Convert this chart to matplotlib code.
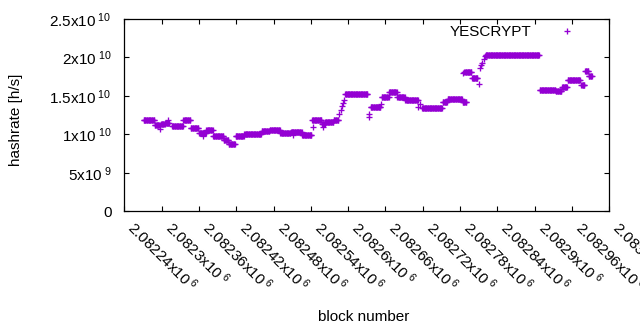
import numpy as np
import matplotlib
matplotlib.use('Agg')
import matplotlib.pyplot as plt

plt.rcParams['font.family'] = ['Liberation Sans', 'DejaVu Sans']
plt.rcParams['mathtext.fontset'] = 'custom'
plt.rcParams['mathtext.rm'] = 'Liberation Sans'
plt.rcParams['mathtext.it'] = 'Liberation Sans:italic'
plt.rcParams['mathtext.bf'] = 'Liberation Sans:bold'

# ---- data (hashrate in units of 1e10 h/s), constant runs over block ranges ----
run_start = [2082271, 2082289, 2082299, 2082306, 2082317, 2082335, 2082347, 2082360,
             2082372, 2082383, 2082400, 2082408, 2082419, 2082433, 2082461, 2082474,
             2082491, 2082508, 2082526, 2082542, 2082558, 2082563, 2082577, 2082595,
             2082636, 2082654, 2082666, 2082679, 2082692, 2082719, 2082752, 2082760,
             2082784, 2082787, 2082799, 2082821, 2082908, 2082934, 2082944, 2082953,
             2082975, 2082981, 2082987]
run_end = [2082288, 2082297, 2082305, 2082312, 2082334, 2082346, 2082359, 2082371,
           2082382, 2082399, 2082407, 2082418, 2082432, 2082460, 2082473, 2082490,
           2082507, 2082525, 2082541, 2082557, 2082562, 2082576, 2082584, 2082631,
           2082652, 2082665, 2082678, 2082691, 2082712, 2082751, 2082759, 2082783,
           2082790, 2082798, 2082808, 2082907, 2082933, 2082943, 2082952, 2082973,
           2082980, 2082986, 2082992]
run_value = [1.19, 1.12, 1.13, 1.15, 1.11, 1.19, 1.085, 1.02,
             1.06, 0.975, 0.92, 0.87, 0.98, 1.005, 1.045, 1.06,
             1.015, 1.025, 0.995, 1.19, 1.13, 1.16, 1.19, 1.53,
             1.36, 1.49, 1.55, 1.49, 1.445, 1.345, 1.42, 1.465,
             1.42, 1.81, 1.73, 2.035, 1.575, 1.56, 1.61, 1.71,
             1.645, 1.82, 1.76]

single_block = [2082298, 2082310, 2082367, 2082512, 2082543, 2082559,
                2082585, 2082588, 2082590, 2082592, 2082594,
                2082633, 2082634, 2082653, 2082713, 2082715, 2082785,
                2082810, 2082812, 2082814, 2082816, 2082818, 2082820]
single_value = [1.075, 1.19, 0.98, 0.99, 1.10, 1.10,
                1.27, 1.32, 1.365, 1.41, 1.45,
                1.26, 1.22, 1.40, 1.36, 1.40, 1.80,
                1.66, 1.86, 1.90, 1.93, 1.98, 2.02]

x_tick_values = [2082240, 2082300, 2082360, 2082420, 2082480, 2082540, 2082600,
                 2082660, 2082720, 2082780, 2082840, 2082900, 2082960, 2083020]
x_tick_text = ['2.08224', '2.0823', '2.08236', '2.08242', '2.08248', '2.08254', '2.0826',
               '2.08266', '2.08272', '2.08278', '2.08284', '2.0829', '2.08296', '2.08302']
y_tick_values = [0, 5e9, 1e10, 1.5e10, 2e10, 2.5e10]
y_tick_text = ['0', r'$\mathregular{5x10^{\ 9}}$', r'$\mathregular{1x10^{\ 10}}$',
               r'$\mathregular{1.5x10^{\ 10}}$', r'$\mathregular{2x10^{\ 10}}$',
               r'$\mathregular{2.5x10^{\ 10}}$']

# expand runs into per-block points
blocks = np.concatenate([np.arange(s, e + 1) for s, e in zip(run_start, run_end)] +
                        [np.array(single_block)])
values = np.concatenate([np.full(e - s + 1, v) for s, e, v in zip(run_start, run_end, run_value)] +
                        [np.array(single_value)]) * 1e10

fig = plt.figure(figsize=(6.4, 3.3), dpi=100)
ax = fig.add_axes([124.3 / 640, 1 - 211.2 / 330, (609.3 - 124.3) / 640, (211.2 - 19) / 330])

ax.plot(blocks, values, linestyle='none', marker='+', markersize=5, mew=0.95,
        color='#9400D3', label='YESCRYPT')

ax.set_xlim(2082240, 2083020)
ax.set_ylim(0, 2.5e10)

ax.set_xticks(x_tick_values)
ax.set_xticklabels([r'$\mathregular{' + t + r'x10^{\ 6}}$' for t in x_tick_text],
                   rotation=-45, ha='left', va='bottom', rotation_mode='anchor')
ax.set_yticks(y_tick_values)
ax.set_yticklabels(y_tick_text)

ax.tick_params(direction='in', length=3.5, width=0.8, top=True, right=True,
               labelsize=11, colors='black')
ax.tick_params(axis='x', pad=14)
ax.tick_params(axis='y', pad=9)
for sp in ax.spines.values():
    sp.set_linewidth(0.9)
    sp.set_color('black')

leg = ax.legend(loc='center right', bbox_to_anchor=(582.6 / 640, 1 - 32.3 / 330),
                bbox_transform=fig.transFigure, frameon=False, markerfirst=False,
                fontsize=11, borderpad=0, borderaxespad=0, handlelength=2.0,
                handletextpad=1.35)

fig.text(16 / 640, 1 - 120 / 330, 'hashrate [h/s]', rotation=90, ha='center', va='center',
         fontsize=11)
fig.text(364 / 640, 1 - 320.7 / 330, 'block number', ha='center', va='baseline', fontsize=11)

fig.savefig('out.png', dpi=100)
